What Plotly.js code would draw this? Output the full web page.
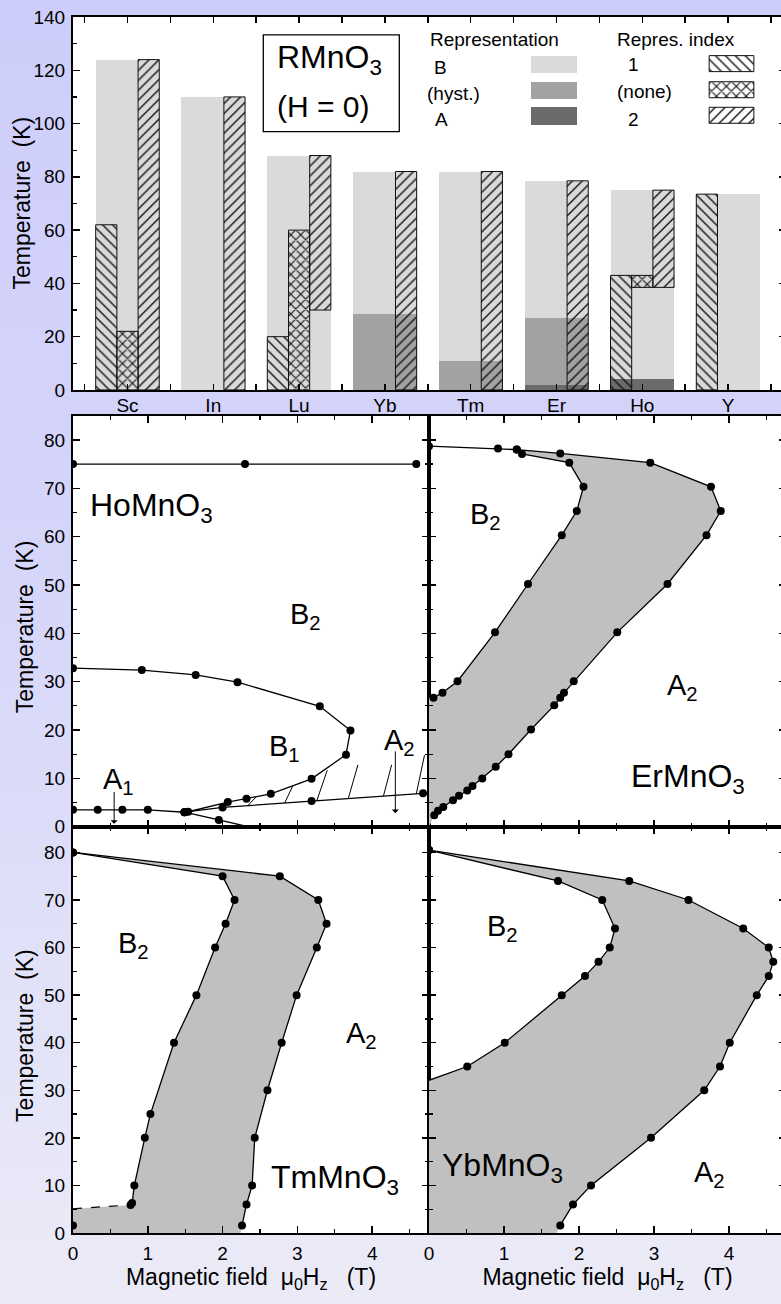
<!DOCTYPE html>
<html><head><meta charset="utf-8">
<script src="https://cdn.plot.ly/plotly-3.0.1.min.js"></script>
<style>
html,body{margin:0;padding:0;overflow:hidden;width:781px;height:1304px;
background:linear-gradient(180deg,#cdcdfb 0%,#d6d6fa 45%,#ebebf7 100%);}
#chart{width:790px;height:1304px;}
</style></head><body><div id="chart"></div>
<script>
// ---------- Top panel: RMnO3 at H = 0 ----------
const categories = ['Sc','In','Lu','Yb','Tm','Er','Ho','Y'];
const reprB    = [124,110,88,82,82,78.5,75,73.5];   // representation B (light grey) up to T_N
const reprHyst = [0,0,0,28.5,11,27,0,0];            // hysteresis region
const reprA    = [0,0,0,0,0,1.8,4,0];               // representation A
const index1Low  = [0,null,0,null,null,null,0,0];
const index1High = [62,null,20,null,null,null,43,73.5];
const noneLow    = [0,null,0,null,null,null,38.5,null];
const noneHigh   = [22,null,60,null,null,null,43,null];
const index2Low  = [0,0,30,0,0,0,38.5,null];
const index2High = [124,110,88,82,82,78.5,75,null];

// ---------- HoMnO3 ----------
const hoTopH = [0,2.3,4.59];            const hoTopT = [75,75,75];
const hoB1H = [0,0.92,1.64,2.20,3.30,3.71,3.65,3.19,2.645,2.32,2.07,1.54];
const hoB1T = [32.8,32.4,31.4,29.9,24.9,19.9,14.9,9.9,6.8,5.8,5.1,3.1];
const hoA1H = [0,0.33,0.66,1.0,1.49];   const hoA1T = [3.5,3.5,3.5,3.5,3.0];
const hoLowH = [1.49,2.0,3.19,4.68];    const hoLowT = [3.0,4.0,5.3,6.9];
const hoDownH = [1.49,1.95];            const hoDownT = [3.0,1.4];
const hoExitH = [1.95,2.34];            const hoExitT = [1.4,0];
const hoHatchH0 = [2.34,2.83,3.26,3.68,4.15,4.59];
const hoHatchT0 = [4.4,4.9,5.4,5.8,6.3,6.8];
const hoHatchH1 = [2.45,2.94,3.40,3.81,4.26,4.70];
const hoHatchT1 = [6.2,8.5,11.7,12.8,12.8,14.8];

// ---------- ErMnO3 ----------
const erOutH = [0,0.92,1.17,1.75,2.95,3.76,3.89,3.70,3.18,2.51,1.93,1.80,1.75,1.67,1.36,1.06,0.89,0.71,0.58,0.51,0.40,0.32,0.19,0.12,0.07];
const erOutT = [78.7,78.2,78.0,77.2,75.3,70.3,65.3,60.3,50.2,40.2,30.1,27.7,26.7,25.1,20.1,15.0,12.4,10.0,8.4,7.5,6.4,5.5,4.1,3.3,2.4];
const erInH = [1.17,1.24,1.87,2.06,1.97,1.77,1.32,0.88,0.38,0.18,0.06];
const erInT = [78.0,77.1,75.3,70.3,65.3,60.3,50.2,40.2,30.1,27.7,26.7];
const erCloseH = [0,0];  const erCloseT = [0,26.7];

// ---------- TmMnO3 ----------
const tmInH = [0,2.0,2.16,2.04,1.90,1.65,1.35,1.035,0.96,0.82,0.79,0.77];
const tmInT = [80,75,70,65,60,50,40,25,20,10,6.3,5.9];
const tmOutH = [0,2.765,3.28,3.39,3.26,2.99,2.79,2.60,2.43,2.395,2.32,2.26];
const tmOutT = [80,75,70,65,60,50,40,30,20,10,6,1.6];
const tmDashH = [0,0.77];  const tmDashT = [5.1,5.9];
const tmAxisH = [0];       const tmAxisT = [1.6];
const tmCloseH = [2.24,0,0]; const tmCloseT = [0,0,5.1];

// ---------- YbMnO3 ----------
const ybInH = [0,1.72,2.31,2.48,2.41,2.26,2.08,1.77,1.01,0.51];
const ybInT = [80.5,74,70,64,60,57,54,50,40,35];
const ybEndH = [0.51,0];   const ybEndT = [35,32.1];
const ybOutH = [0,2.67,3.46,4.19,4.53,4.59,4.53,4.37,4.01,3.88,3.67,2.96,2.16,1.92,1.75];
const ybOutT = [80.5,74,70,64,60,57,54,50,40,35,30,20,10,6,1.6];
const ybCloseH = [1.70,0,0]; const ybCloseT = [0,0,32.1];

// ---------- styling / layout constants ----------
const FONT = 'Liberation Sans, Arial, Helvetica, sans-serif';
const SLOT = 0.247, GRAYW = 0.741;
const LIGHT = '#dadada', MID = '#a2a2a2', DARK = '#6b6b6b', FILL = '#c0c0c0';

const traces = [];
function addBar(xs, bases, heights, width, marker){
  traces.push({type:'bar', x:xs, y:heights, base:bases, width:width, marker:marker,
    xaxis:'x', yaxis:'y', hoverinfo:'skip', showlegend:false});
}
function hatchMarker(shape){
  return {color:'#111', pattern:{shape:shape, size:7, solidity: shape==='x' ? 0.3 : 0.2}, line:{color:'#111', width:1}};
}
const idx = categories.map((c,i)=>i);
const zeros = idx.map(()=>0);
addBar(idx, zeros, reprB, GRAYW, {color:LIGHT, line:{width:0}});
addBar(idx, zeros, reprHyst, GRAYW, {color:MID, line:{width:0}});
addBar(idx, zeros, reprA, GRAYW, {color:DARK, line:{width:0}});
function hatched(lows, highs, off, shape){
  const xs=[], bs=[], hs=[];
  idx.forEach(i=>{ if(lows[i]!==null){ xs.push(i+off); bs.push(lows[i]); hs.push(highs[i]-lows[i]); }});
  addBar(xs, bs, hs, SLOT, hatchMarker(shape));
}
hatched(index1Low, index1High, -SLOT, '\\');
hatched(noneLow, noneHigh, 0, 'x');
hatched(index2Low, index2High, SLOT, '/');

// legend swatches (positions in top-panel axis units)
const legGrayX = 4.97, legGrayW = 0.543, legHatchX = 7.04, legHatchW = 0.521;
addBar([legGrayX],[118.9],[6.5],legGrayW,{color:LIGHT,line:{width:0}});
addBar([legGrayX],[109.1],[6.5],legGrayW,{color:MID,line:{width:0}});
addBar([legGrayX],[99.5],[6.6],legGrayW,{color:DARK,line:{width:0}});
[['\\',119.5],['x',109.7],['/',100.1]].forEach(([s,b])=>{
  addBar([legHatchX],[b],[6.0],legHatchW,hatchMarker(s));
});

function fillArea(h,t,ax){
  traces.push({type:'scatter', mode:'none', fill:'toself', fillcolor:FILL, x:h, y:t,
    xaxis:'x'+ax, yaxis:'y'+ax, hoverinfo:'skip', showlegend:false});
}
function curve(h,t,ax,extra){
  traces.push(Object.assign({type:'scatter', mode:'lines+markers', x:h, y:t,
    xaxis:'x'+ax, yaxis:'y'+ax, line:{color:'#000',width:1.3},
    marker:{color:'#000',size:8,opacity:1,line:{width:0}}, hoverinfo:'skip', showlegend:false}, extra||{}));
}
const rev = a => a.slice().reverse();
const LINE_ONLY = {mode:'lines'};

// HoMnO3 (axes 2)
curve(hoTopH, hoTopT, 2);
curve(hoB1H, hoB1T, 2);
curve(hoA1H, hoA1T, 2);
curve(hoLowH, hoLowT, 2);
curve(hoDownH, hoDownT, 2);
curve(hoExitH, hoExitT, 2, LINE_ONLY);
const hx=[], hy=[];
hoHatchH0.forEach((v,i)=>{ hx.push(v, hoHatchH1[i], null); hy.push(hoHatchT0[i], hoHatchT1[i], null); });
curve(hx, hy, 2, {mode:'lines', line:{color:'#000', width:1}});

// ErMnO3 (axes 3)
fillArea(erOutH.concat(erCloseH, rev(erInH)), erOutT.concat(erCloseT, rev(erInT)), 3);
curve(erOutH, erOutT, 3);
curve(erInH, erInT, 3);

// TmMnO3 (axes 4)
fillArea(tmOutH.concat(tmCloseH, rev(tmInH)), tmOutT.concat(tmCloseT, rev(tmInT)), 4);
curve(tmInH, tmInT, 4);
curve(tmOutH, tmOutT, 4);
curve(tmDashH, tmDashT, 4, {mode:'lines', line:{color:'#000', width:1.2, dash:'dash'}});
curve(tmAxisH, tmAxisT, 4, {mode:'markers'});

// YbMnO3 (axes 5)
fillArea(ybOutH.concat(ybCloseH, rev(ybEndH), rev(ybInH)), ybOutT.concat(ybCloseT, rev(ybEndT), rev(ybInT)), 5);
curve(ybOutH, ybOutT, 5);
curve(ybInH, ybInT, 5);
curve(ybEndH, ybEndT, 5, LINE_ONLY);

// ---------- axes ----------
function ax(extra){
  return Object.assign({
    showline:true, linecolor:'#000', linewidth:2, mirror:'ticks',
    ticks:'inside', ticklen:7, tickwidth:1.5, tickcolor:'#000',
    showgrid:false, zeroline:false, ticklabelstandoff:2,
    tickfont:{family:FONT, size:19, color:'#000'},
  }, extra);
}
const xTitle = {text:'Magnetic field\u00a0\u00a0\u03bc<sub>0</sub>H<sub>z</sub>\u00a0\u00a0\u00a0(T)', font:{family:FONT,size:23,color:'#000'}, standoff:4};
const minorX = {ticks:'inside', ticklen:4, tickwidth:1.2, tickcolor:'#000', dtick:0.5};
const minorY = {ticks:'inside', ticklen:4, tickwidth:1.2, tickcolor:'#000', dtick:5};
const midTicks = [];
for(let i=-0.5;i<=7.5;i+=1){ midTicks.push(i); }

const DL = [0, 0.4993], DR = [0.4993, 1];
const DTOP = [0.6933, 1], DMID = [0.3341, 0.6721], DBOT = [0, 0.3341];
const HRANGE = [0, 4.76];

const layout = {
  width:790, height:1304,
  margin:{l:73, r:4, t:17, b:71},
  paper_bgcolor:'rgba(0,0,0,0)', plot_bgcolor:'#fff',
  barmode:'overlay', bargap:0,
  font:{family:FONT, color:'#000'},
  xaxis: ax({domain:[0,1], anchor:'y', range:[-0.635, 7.675], tickmode:'array', tickvals:idx, ticktext:categories,
             ticklen:6, ticklabelstandoff:-3,
             minor:{tickmode:'array', tickvals:midTicks, ticks:'inside', ticklen:6, tickwidth:1.5, tickcolor:'#000'}}),
  yaxis: ax({domain:DTOP, anchor:'x', range:[0,140], dtick:20, minor:{ticks:'inside',ticklen:4,tickwidth:1.2,tickcolor:'#000',dtick:10}}),
  xaxis2: ax({domain:DL, anchor:'y2', range:HRANGE, dtick:1, showticklabels:false, minor:minorX}),
  yaxis2: ax({domain:DMID, anchor:'x2', range:[0,85], dtick:10, minor:minorY}),
  xaxis3: ax({domain:DR, anchor:'y3', range:HRANGE, dtick:1, showticklabels:false, minor:minorX}),
  yaxis3: ax({domain:DMID, anchor:'x3', range:[0,85], dtick:10, minor:minorY, showticklabels:false}),
  xaxis4: ax({domain:DL, anchor:'y4', range:HRANGE, dtick:1, minor:minorX, title:xTitle}),
  yaxis4: ax({domain:DBOT, anchor:'x4', range:[0,85.4], dtick:10, minor:minorY}),
  xaxis5: ax({domain:DR, anchor:'y5', range:HRANGE, dtick:1, minor:minorX, title:xTitle}),
  yaxis5: ax({domain:DBOT, anchor:'x5', range:[0,85.4], dtick:10, minor:minorY, showticklabels:false}),
  shapes:[
    {type:'rect', xref:'x', yref:'y', x0:1.583, x1:3.168, y0:97.0, y1:133.3, line:{color:'#000', width:1.3}, fillcolor:'rgba(0,0,0,0)'}
  ],
  annotations:[]
};

const A = layout.annotations;
function yTitle(xp, yp){
  A.push({text:'Temperature\u00a0\u00a0(K)', xref:'paper', yref:'paper', x:xp, y:yp, textangle:-90,
    showarrow:false, xanchor:'center', yanchor:'middle', font:{family:FONT, size:23, color:'#000'}});
}
yTitle(-0.0715, 0.8467);
yTitle(-0.0673, 0.4982);
yTitle(-0.0673, 0.1621);

function txt(text, x, y, ref, size, xanchor){
  A.push({text:text, x:x, y:y, xref:'x'+ref, yref:'y'+ref, showarrow:false,
    xanchor:xanchor||'left', yanchor:'middle', font:{family:FONT, size:size, color:'#000'}});
}
function arrow(x, yTail, yHead, ref){
  A.push({text:'', x:x, y:yHead, ax:x, ay:yTail, xref:'x'+ref, yref:'y'+ref, axref:'x'+ref, ayref:'y'+ref,
    showarrow:true, arrowhead:1, arrowsize:1.2, arrowwidth:1, arrowcolor:'#000', standoff:0, startstandoff:0});
}
// top panel texts
txt('RMnO<sub>3</sub>', 2.36, 124, '', 32, 'center');
txt('(H\u00a0=\u00a00)', 2.29, 106.5, '', 30, 'center');
txt('Representation', 3.507, 131.4, '', 19);
txt('B', 3.65, 121, '', 19, 'center');
txt('(hyst.)', 3.467, 111.4, '', 19);
txt('A', 3.66, 101.6, '', 19, 'center');
txt('Repres. index', 5.68, 131.4, '', 19);
txt('1', 5.90, 122, '', 19, 'center');
txt('(none)', 5.68, 111.9, '', 19);
txt('2', 5.90, 101.7, '', 19, 'center');
// HoMnO3
txt('HoMnO<sub>3</sub>', 0.20, 66, 2, 32);
txt('B<sub>2</sub>', 2.88, 43.5, 2, 29);
txt('B<sub>1</sub>', 2.60, 16.3, 2, 29);
txt('A<sub>2</sub>', 4.13, 17.6, 2, 29);
txt('A<sub>1</sub>', 0.38, 9.4, 2, 29);
arrow(0.55, 7.5, 0.6, 2);
arrow(4.31, 15.9, 2.8, 2);
// ErMnO3
txt('B<sub>2</sub>', 0.52, 64.2, 3, 29);
txt('A<sub>2</sub>', 3.15, 29, 3, 29);
txt('ErMnO<sub>3</sub>', 2.66, 10, 3, 32);
// TmMnO3
txt('B<sub>2</sub>', 0.58, 60.6, 4, 29);
txt('A<sub>2</sub>', 3.62, 41.7, 4, 29);
txt('TmMnO<sub>3</sub>', 2.62, 11.2, 4, 32);
// YbMnO3
txt('B<sub>2</sub>', 0.75, 64.1, 5, 29);
txt('A<sub>2</sub>', 3.50, 12.3, 5, 29);
txt('YbMnO<sub>3</sub>', 0.14, 13.7, 5, 32);

Plotly.newPlot('chart', traces, layout, {staticPlot:true, displayModeBar:false});
</script></body></html>
